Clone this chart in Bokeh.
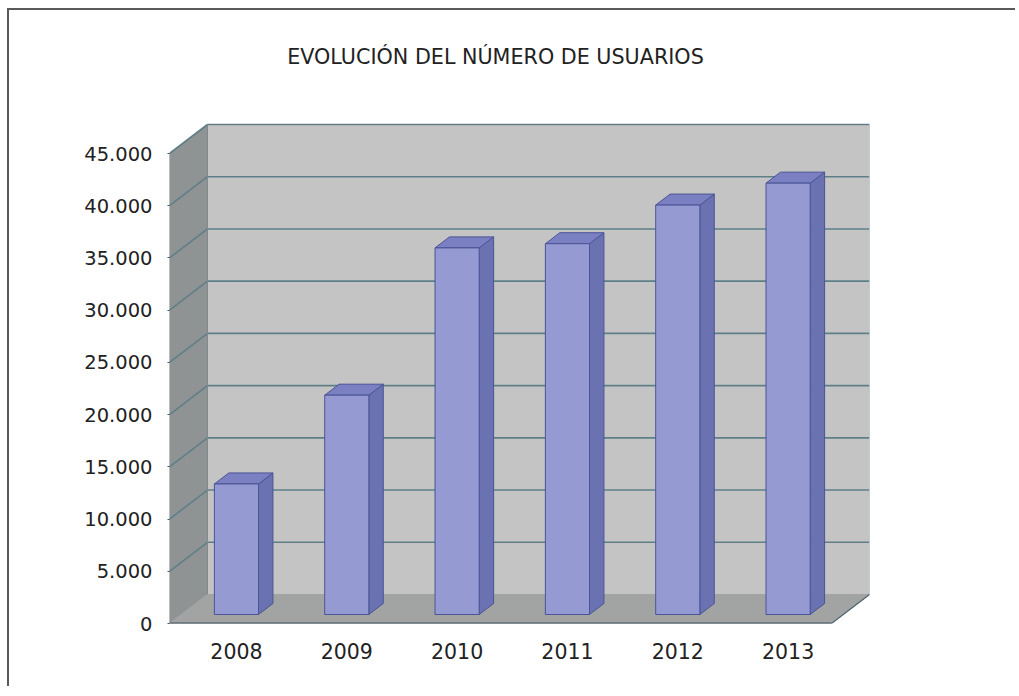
from bokeh.plotting import figure
from bokeh.models import Range1d, FixedTicker
from bokeh.core.properties import value
from bokeh.embed import file_html
from bokeh.resources import INLINE

# ---- data ----
years = ["2008", "2009", "2010", "2011", "2012", "2013"]
users = [12500, 21000, 35100, 35500, 39200, 41300]
y_ticks = [0, 5000, 10000, 15000, 20000, 25000, 30000, 35000, 40000, 45000]
y_tick_labels = ["0", "5.000", "10.000", "15.000", "20.000", "25.000",
                 "30.000", "35.000", "40.000", "45.000"]
title_text = "EVOLUCIÓN DEL NÚMERO DE USUARIOS"

# ---- geometry / style ----
CAT_PX = 110.33           # pixels per category on the front plane
FRAME_W = 700
FRAME_H = 613             # frame reaches the top of the canvas (title lives inside)
PX_PER_UNIT_Y = 470 / 45000.0
DEPTH_X_PX, DEPTH_Y_PX = 38, 29
DX = DEPTH_X_PX / CAT_PX
DY = DEPTH_Y_PX / PX_PER_UNIT_Y
YMAX = max(y_ticks)
N = len(years)
BAR_W = 0.4
A, B = 0.31, 0.69         # bar depth span (fraction of floor depth)
TITLE_X = (496 - 170) / CAT_PX
TITLE_Y = (623 - 56) / PX_PER_UNIT_Y

W, H = 1008, 678
p = figure(width=W, height=H, output_backend="svg", toolbar_location=None,
           x_range=Range1d(0, FRAME_W / CAT_PX),
           y_range=Range1d(0, FRAME_H / PX_PER_UNIT_Y),
           min_border_left=160, min_border_right=W - 160 - FRAME_W,
           min_border_top=0, min_border_bottom=H - FRAME_H)
p.styles = {"border-left": "2px solid #5a5a5a", "border-top": "2px solid #5a5a5a",
            "border-right": "none", "border-bottom": "none",
            "margin-left": "7px", "margin-top": "8px"}
p.outline_line_color = None
p.background_fill_color = "white"
p.border_fill_color = "white"
p.xgrid.visible = False
p.ygrid.visible = False

# walls and floor
p.patch([0, DX, DX, 0], [0, DY, YMAX + DY, YMAX], fill_color="#8f9393",
        line_color="#8f9393")
p.quad(left=[DX], right=[N + DX], bottom=[DY], top=[YMAX + DY],
       fill_color="#c4c4c4", line_color="#b0b8ba", line_width=1)
p.patch([0, N, N + DX, DX], [0, 0, DY, DY], fill_color="#a2a4a4",
        line_color="#a2a4a4")

# gridlines on the back wall and left wall
grid_col = "#5f7f88"
for t in y_ticks[1:]:
    p.line([DX, N + DX], [t + DY, t + DY], line_color=grid_col, line_width=1.6)
    p.line([0, DX], [t, t + DY], line_color=grid_col, line_width=1.6)
p.line([DX, DX], [DY, YMAX + DY], line_color="#7f8a8c", line_width=1)
p.line([N + DX, N + DX], [DY, YMAX + DY], line_color="#b5c0c3", line_width=1)
p.line([N, N + DX], [0, DY], line_color="#4f6670", line_width=1.2)

# bars
ddx, ddy = (B - A) * DX, (B - A) * DY
for i, v in enumerate(users):
    x0 = i + 0.5 - BAR_W / 2 + A * DX
    x1 = x0 + BAR_W
    y0 = A * DY
    y1 = v + A * DY
    # side
    p.patch([x1, x1 + ddx, x1 + ddx, x1], [y0, y0 + ddy, y1 + ddy, y1],
            fill_color="#6b72b2", line_color="#4a5496", line_width=1)
    # top
    p.patch([x0, x1, x1 + ddx, x0 + ddx], [y1, y1, y1 + ddy, y1 + ddy],
            fill_color="#7a80c2", line_color="#4a5496", line_width=1)
    # front
    p.quad(left=[x0], right=[x1], bottom=[y0], top=[y1],
           fill_color="#959bd2", line_color="#4a5496", line_width=1)

# front floor edge (x axis line)
p.line([0, N], [0, 0], line_color="#3e5560", line_width=1.8)

# axes
p.yaxis.ticker = FixedTicker(ticks=y_ticks)
p.yaxis.major_label_overrides = {t: s for t, s in zip(y_ticks, y_tick_labels)}
p.yaxis.axis_line_color = None
p.yaxis.major_tick_in = 0
p.yaxis.major_tick_out = 2
p.yaxis.major_tick_line_color = "#3e5560"
p.yaxis.minor_tick_line_color = None
p.yaxis.major_label_standoff = 15
p.yaxis.major_label_text_font = "DejaVu Sans"
p.yaxis.major_label_text_font_size = "19.5px"
p.yaxis.major_label_text_color = "#222222"

xt = [i + 0.5 + A * DX for i in range(N)]
p.xaxis.ticker = FixedTicker(ticks=xt)
p.xaxis.major_label_overrides = {t: s for t, s in zip(xt, years)}
p.xaxis.axis_line_color = None
p.xaxis.major_tick_line_color = None
p.xaxis.minor_tick_line_color = None
p.xaxis.major_label_standoff = 13
p.xaxis.major_label_text_font = "DejaVu Sans"
p.xaxis.major_label_text_font_size = "20.5px"
p.xaxis.major_label_text_color = "#222222"

# title (inside the frame, above the 3D box)
p.text(x=[TITLE_X], y=[TITLE_Y], text=[title_text], text_align="center",
       text_baseline="alphabetic", text_font=value("DejaVu Sans"),
       text_font_size="20.7px", text_color="#222222")

open("out.html", "w").write(file_html(p, INLINE))
